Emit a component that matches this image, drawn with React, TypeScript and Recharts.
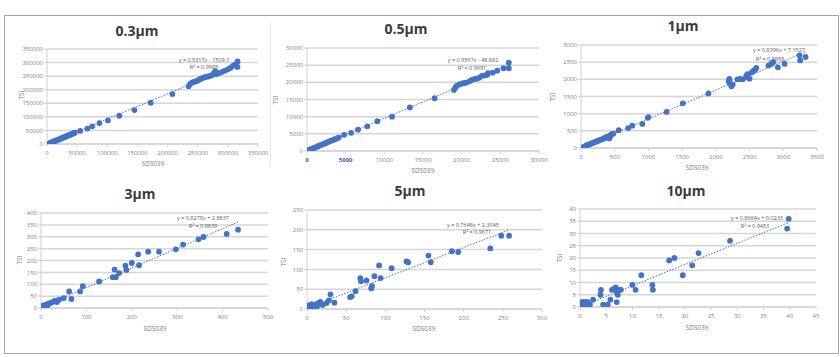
import { ScatterChart, Scatter, XAxis, YAxis, CartesianGrid, ReferenceLine } from "recharts";

const BLUE = "#4472c4";
const FONT = "'Open Sans', 'Liberation Sans', sans-serif";

// 0.3µm
const x03 = [1000, 2500, 4000, 5500, 7000, 8500, 10000, 11500, 13000, 14500, 16000, 17500, 19000, 20500, 22000, 23500, 25000, 26500, 28000, 29500, 31000, 32500, 34000, 35500, 37000, 38500, 40000, 41500, 43000, 44500, 46000, 55000, 67000, 75000, 87000, 101000, 120000, 145000, 172000, 208000, 235000, 238000, 241000, 244000, 247000, 250000, 253000, 256000, 259000, 262000, 265000, 268000, 271000, 274000, 277000, 279000, 281000, 285000, 290000, 295000, 300000, 304000, 308000, 311000, 316000, 316000];
const y03 = [300, 900, 2200, 3600, 5000, 6400, 7800, 9300, 10600, 12000, 13500, 14900, 16300, 17700, 19100, 20500, 21800, 23200, 24600, 26000, 27400, 28800, 30100, 31500, 33000, 34400, 35800, 37200, 38700, 40000, 41500, 48000, 57000, 65000, 77000, 87000, 104000, 125000, 152000, 184000, 213000, 222000, 227000, 229000, 231000, 234000, 238000, 241000, 244000, 246000, 248000, 249000, 251000, 254000, 262000, 268000, 258000, 261000, 265000, 270000, 275000, 280000, 287000, 291000, 284000, 304000];

// 0.5µm
const x05 = [100, 300, 500, 700, 900, 1100, 1300, 1500, 1700, 1900, 2100, 2300, 2500, 2700, 2900, 3100, 3300, 3500, 3700, 3900, 4100, 4800, 5700, 6600, 7800, 9100, 11000, 13300, 16500, 19000, 19200, 19400, 19700, 20000, 20300, 20600, 21000, 21300, 21700, 22000, 22300, 22600, 23000, 23300, 23400, 24000, 24600, 25400, 26100, 26100];
const y05 = [150, 330, 520, 700, 880, 1070, 1260, 1450, 1640, 1830, 2020, 2210, 2400, 2590, 2780, 2960, 3150, 3340, 3530, 3720, 3900, 4700, 5300, 6200, 7200, 8700, 10000, 12700, 15400, 17800, 18500, 19000, 19400, 19600, 19800, 19900, 20300, 20700, 21000, 21100, 21400, 21900, 22000, 22200, 22700, 22800, 23400, 24100, 24100, 25700];

// 1µm
const x1 = [30, 45, 60, 75, 90, 105, 120, 140, 160, 180, 200, 220, 240, 260, 280, 300, 320, 340, 360, 380, 400, 420, 430, 440, 460, 480, 560, 700, 760, 910, 990, 1000, 1270, 1510, 1890, 2190, 2200, 2200, 2230, 2250, 2320, 2360, 2400, 2450, 2470, 2480, 2500, 2530, 2560, 2580, 2600, 2780, 2820, 2850, 2920, 3020, 3240, 3250, 3330];
const y1 = [20, 35, 50, 65, 80, 92, 105, 120, 135, 150, 170, 185, 200, 215, 230, 245, 260, 280, 300, 320, 340, 280, 330, 380, 410, 420, 520, 580, 650, 700, 880, 900, 1050, 1300, 1590, 1950, 2010, 1900, 1800, 1850, 2000, 2010, 2000, 2100, 2150, 2050, 2020, 2200, 2250, 2280, 2330, 2400, 2450, 2500, 2350, 2450, 2700, 2550, 2650];

// 3µm
const x3 = [1, 2, 3, 3, 4, 5, 6, 7, 8, 9, 10, 11, 12, 13, 14, 15, 16, 5, 8, 2, 6, 10, 20, 25, 30, 35, 35, 40, 50, 62, 67, 86, 92, 128, 158, 162, 165, 172, 186, 188, 200, 214, 216, 236, 260, 297, 313, 347, 358, 409, 434];
const y3 = [1, 3, 0, 5, 2, 6, 3, 8, 5, 10, 7, 12, 9, 14, 11, 15, 18, 10, 12, 8, 0, 2, 20, 25, 30, 25, 30, 35, 42, 70, 38, 70, 92, 112, 130, 162, 130, 147, 178, 160, 190, 226, 180, 237, 237, 247, 267, 289, 299, 312, 330];

// 5µm
const x5 = [1, 2, 3, 4, 5, 6, 7, 8, 9, 10, 11, 12, 13, 14, 3, 6, 9, 12, 2, 5, 15, 17, 20, 25, 28, 30, 35, 55, 57, 62, 68, 69, 76, 82, 83, 86, 92, 94, 108, 127, 129, 155, 158, 185, 193, 234, 248, 258];
const y5 = [2, 5, 1, 8, 3, 6, 2, 9, 4, 10, 6, 12, 8, 14, 10, 12, 0, 3, 0, 0, 12, 18, 10, 15, 22, 37, 16, 30, 32, 45, 78, 70, 72, 52, 58, 83, 110, 78, 103, 120, 118, 135, 118, 146, 144, 153, 185, 185];

// 10µm
const x10 = [0.1, 0.2, 0.3, 0.4, 0.5, 0.6, 0.7, 0.8, 0.9, 1.0, 1.1, 1.2, 1.3, 1.4, 1.5, 1.6, 1.7, 1.8, 0.2, 0.5, 1.0, 1.4, 1.9, 2.5, 3.9, 4.0, 4.4, 5.3, 5.8, 6.1, 6.5, 6.8, 7.0, 7.0, 7.2, 7.5, 7.8, 10.0, 10.6, 11.7, 13.8, 13.9, 17.0, 18.0, 19.6, 21.4, 22.6, 28.6, 39.5, 39.8];
const y10 = [0, 1, 2, 0, 1, 2, 0, 1, 2, 0, 1, 2, 0, 1, 2, 0, 1, 0, 0.5, 1.5, 1.5, 0.5, 1, 3, 5, 7, 1, 1, 3, 7, 7.5, 8, 6, 2, 5, 7, 7, 9, 7, 13, 9, 7, 19, 20, 13, 17, 22, 27, 32, 36];

const ticks03 = [0, 50000, 100000, 150000, 200000, 250000, 300000, 350000];
const ticks05 = [0, 5000, 10000, 15000, 20000, 25000, 30000];
const ticks1x = [0, 500, 1000, 1500, 2000, 2500, 3000, 3500];
const ticks1y = [0, 500, 1000, 1500, 2000, 2500, 3000];
const ticks3x = [0, 100, 200, 300, 400, 500];
const ticks3y = [0, 50, 100, 150, 200, 250, 300, 350, 400];
const ticks5x = [0, 50, 100, 150, 200, 250, 300];
const ticks5y = [0, 50, 100, 150, 200, 250];
const ticks10x = [0, 5, 10, 15, 20, 25, 30, 35, 40, 45];
const ticks10y = [0, 5, 10, 15, 20, 25, 30, 35, 40];

const titles = ["0.3µm", "0.5µm", "1µm", "3µm", "5µm", "10µm"];
const equations = [
  "y = 0.9317x - 1509.1",
  "y = 0.9567x - 48.882",
  "y = 0.8396x + 7.1527",
  "y = 0.8278x + 2.8837",
  "y = 0.7648x + 2.3045",
  "y = 0.8664x + 0.0233",
];
const rSquared = ["R² = 0.9985", "R² = 0.9991", "R² = 0.9958", "R² = 0.9839", "R² = 0.9671", "R² = 0.9453"];
const slopes = [0.9317, 0.9567, 0.8396, 0.8278, 0.7648, 0.8664];
const intercepts = [-1509.1, -48.882, 7.1527, 2.8837, 2.3045, 0.0233];

type Layout = {
  box: [number, number, number, number];
  title: [number, number];
  eq: [number, number];
  r2: [number, number];
  ylab: [number, number];
  xlab: [number, number];
};

const layouts: Layout[] = [
  { box: [47, 258, 49, 144], title: [137, 31], eq: [204, 61], r2: [204, 68], ylab: [22, 95], xlab: [153, 164] },
  { box: [307, 539, 48, 151], title: [406, 29], eq: [473, 61], r2: [472, 69], ylab: [276, 100], xlab: [423, 171] },
  { box: [581, 817, 45, 148], title: [683, 26], eq: [779, 51], r2: [770, 60], ylab: [553, 97], xlab: [697, 168] },
  { box: [41, 268, 213, 308], title: [140, 194], eq: [203, 219], r2: [203, 227], ylab: [20, 260], xlab: [155, 329] },
  { box: [307, 542, 210, 309], title: [410, 191], eq: [473, 226], r2: [477, 233], ylab: [284, 262], xlab: [424, 329] },
  { box: [580, 816, 209, 307], title: [686, 191], eq: [757, 219], r2: [755, 227], ylab: [560, 258], xlab: [697, 328] },
];

const YW = 34;
const MT = 6;
const MR = 16;
const XH = 16;

const Dot = (p: any) => <circle cx={p.cx} cy={p.cy} r={2.9} fill={BLUE} />;

function TickX(props: any) {
  const { x, y, payload, blueTicks } = props;
  const blue = blueTicks && (payload.value === 0 || payload.value === 5000);
  return (
    <text x={x} y={y + 6} textAnchor="middle" fontSize={6} fill={blue ? "#2f5fb3" : "#7f7f7f"} fontWeight={blue ? 700 : 400} fontFamily={FONT}>
      {payload.value}
    </text>
  );
}

function Label({ pos, text, style }: { pos: [number, number]; text: string; style: any }) {
  return (
    <div style={{ position: "absolute", left: pos[0], top: pos[1], transform: "translate(-50%, -50%)", whiteSpace: "nowrap", fontFamily: FONT, lineHeight: 1, ...style }}>
      {text}
    </div>
  );
}

function Panel({ i, xs, ys, xTicks, yTicks }: { i: number; xs: number[]; ys: number[]; xTicks: number[]; yTicks: number[] }) {
  const L = layouts[i];
  const [x0, x1, y0, y1] = L.box;
  const data = xs.map((x, k) => ({ x, y: ys[k] }));
  const minX = Math.min(...xs);
  const maxX = Math.max(...xs);
  const a = slopes[i];
  const b = intercepts[i];
  const seg = [
    { x: minX, y: Math.max(0, a * minX + b) },
    { x: maxX, y: a * maxX + b },
  ];
  return (
    <>
      <div style={{ position: "absolute", left: x0 - YW, top: y0 - MT }}>
        <ScatterChart width={x1 - x0 + YW + MR} height={y1 - y0 + MT + XH} margin={{ top: MT, right: MR, left: 0, bottom: 0 }}>
          <CartesianGrid vertical={false} stroke="#d6d6d6" strokeWidth={1.5} />
          <XAxis
            type="number"
            dataKey="x"
            domain={[xTicks[0], xTicks[xTicks.length - 1]]}
            ticks={xTicks}
            interval={0}
            height={XH}
            tickSize={3}
            stroke="#d0d0d0"
            tick={<TickX blueTicks={i === 1} />}
            allowDataOverflow
          />
          <YAxis
            type="number"
            dataKey="y"
            domain={[yTicks[0], yTicks[yTicks.length - 1]]}
            ticks={yTicks}
            interval={0}
            width={YW}
            tickSize={3}
            tickMargin={1}
            stroke="#d0d0d0"
            tick={{ fontSize: 6, fill: "#7f7f7f", fontFamily: FONT }}
            allowDataOverflow
          />
          <ReferenceLine segment={seg} stroke={BLUE} strokeWidth={1} strokeDasharray="1.5 1.5" ifOverflow="visible" />
          <Scatter data={data} shape={Dot} isAnimationActive={false} />
        </ScatterChart>
      </div>
      <Label pos={L.title} text={titles[i]} style={{ fontSize: 14, fontWeight: 700, color: "#3a3a3a" }} />
      <Label pos={L.eq} text={equations[i]} style={{ fontSize: 5.5, color: "#595959" }} />
      <Label pos={L.r2} text={rSquared[i]} style={{ fontSize: 5.5, color: "#595959" }} />
      <Label pos={L.xlab} text="SDS039" style={{ fontSize: 6.5, color: "#7f7f7f" }} />
      <Label pos={L.ylab} text="TSI" style={{ fontSize: 6.5, color: "#7f7f7f", transform: "translate(-50%, -50%) rotate(-90deg)" }} />
    </>
  );
}

export default function App() {
  return (
    <div style={{ position: "absolute", left: 0, top: 0, width: 840, height: 357, background: "#fff", overflow: "hidden" }}>
      <div style={{ position: "absolute", left: 4, top: 15, width: 833, height: 337, border: "1px solid #a6a6a6" }} />
      <div style={{ position: "absolute", left: 270, top: 22, width: 1, height: 145, background: "#e8e8e8" }} />
      <Panel i={0} xs={x03} ys={y03} xTicks={ticks03} yTicks={ticks03} />
      <Panel i={1} xs={x05} ys={y05} xTicks={ticks05} yTicks={ticks05} />
      <Panel i={2} xs={x1} ys={y1} xTicks={ticks1x} yTicks={ticks1y} />
      <Panel i={3} xs={x3} ys={y3} xTicks={ticks3x} yTicks={ticks3y} />
      <Panel i={4} xs={x5} ys={y5} xTicks={ticks5x} yTicks={ticks5y} />
      <Panel i={5} xs={x10} ys={y10} xTicks={ticks10x} yTicks={ticks10y} />
    </div>
  );
}
